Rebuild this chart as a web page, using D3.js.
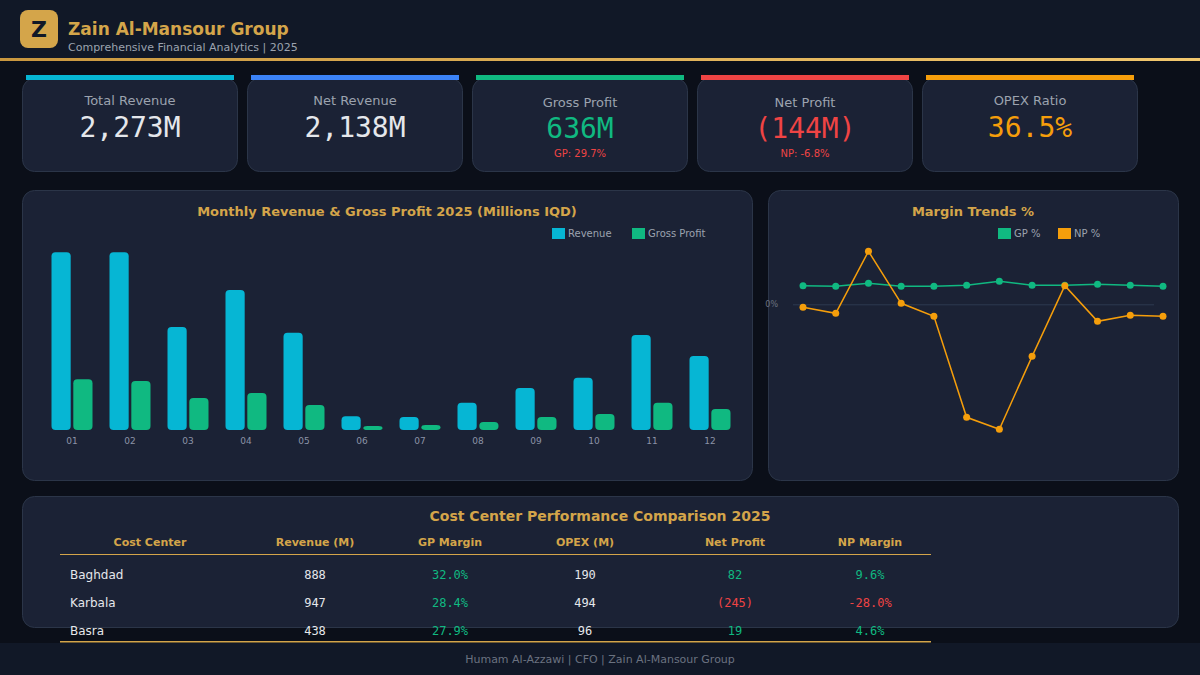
<!DOCTYPE html>
<meta charset="utf-8">
<style>
body{
    margin: 0;
    background: #0b0f19;
    font-family: "DejaVu Sans", sans-serif;
}
svg{
    display: block;
}
</style>
<body>
    <svg id="dash" width="1200" height="675"></svg>
    <script src="https://d3js.org/d3.v7.min.js"></script>
    <script>
        // data
        const months = ["01","02","03","04","05","06","07","08","09","10","11","12"];
        const revenue = [399, 399, 231, 314, 218, 31, 29, 61, 94, 117, 213, 166];
        const grossProfit = [114, 110, 72, 83, 56, 9, 11, 18, 29, 36, 61, 47];
        const gpPct = [29.1, 28.1, 32.8, 28.1, 28.1, 29.7, 35.9, 29.7, 29.7, 31.3, 29.7, 28.1];
        const npPct = [-4.7, -14.1, 82.8, 1.6, -18.8, -176.6, -195.3, -81.3, 29.1, -26.6, -17.2, -18.8];

        const kpiLabels = ["Total Revenue", "Net Revenue", "Gross Profit", "Net Profit", "OPEX Ratio"];
        const kpiValues = ["2,273M", "2,138M", "636M", "(144M)", "36.5%"];
        const kpiSubs = ["", "", "GP: 29.7%", "NP: -6.8%", ""];
        const kpiColors = ["#06b6d4", "#3b82f6", "#10b981", "#ef4444", "#f59e0b"];
        const kpiValueColors = ["#e5e7eb", "#e5e7eb", "#10b981", "#ef4444", "#f59e0b"];

        const tableHeaders = ["Cost Center", "Revenue (M)", "GP Margin", "OPEX (M)", "Net Profit", "NP Margin"];
        const centers = ["Baghdad", "Karbala", "Basra"];
        const centerRevenue = ["888", "947", "438"];
        const centerGp = ["32.0%", "28.4%", "27.9%"];
        const centerOpex = ["190", "494", "96"];
        const centerNet = ["82", "(245)", "19"];
        const centerNpMargin = ["9.6%", "-28.0%", "4.6%"];

        const gold = "#d4a54a";
        const panelFill = "#1b2235";
        const panelStroke = "#2b3548";

        const svg = d3.select("#dash");

        // ---- header
        const defs = svg.append("defs");
        const grad = defs.append("linearGradient").attr("id", "goldline");
        grad.append("stop").attr("offset", "0%").attr("stop-color", "#c9973f");
        grad.append("stop").attr("offset", "100%").attr("stop-color", "#f2c76e");

        svg.append("rect").attr("width", 1200).attr("height", 59).attr("fill", "#111827");
        svg.append("rect").attr("y", 58).attr("width", 1200).attr("height", 3).attr("fill", "url(#goldline)");
        svg.append("rect").attr("x", 20).attr("y", 10).attr("width", 38).attr("height", 38)
            .attr("rx", 8).attr("fill", gold);
        svg.append("text").attr("x", 39).attr("y", 37).attr("text-anchor", "middle")
            .attr("font-size", 22).attr("font-weight", "bold").attr("fill", "#111827").text("Z");
        svg.append("text").attr("x", 68).attr("y", 35).attr("font-size", 17).attr("font-weight", "bold")
            .attr("fill", gold).text("Zain Al-Mansour Group");
        svg.append("text").attr("x", 68).attr("y", 51).attr("font-size", 11)
            .attr("fill", "#9ca3af").text("Comprehensive Financial Analytics | 2025");

        // ---- KPI cards
        const cards = svg.selectAll("g.kpi")
            .data(kpiLabels)
            .join("g")
            .attr("class", "kpi")
            .attr("transform", (d, i) => `translate(${22 + i * 225},0)`);
        cards.append("rect").attr("x", 0.5).attr("y", 78.5).attr("width", 215).attr("height", 93)
            .attr("rx", 12).attr("fill", panelFill).attr("stroke", panelStroke);
        cards.append("rect").attr("x", 4).attr("y", 75).attr("width", 208).attr("height", 5)
            .attr("fill", (d, i) => kpiColors[i]);
        cards.append("text").attr("x", 108).attr("y", (d, i) => kpiSubs[i] ? 107 : 105)
            .attr("text-anchor", "middle").attr("font-size", 13).attr("fill", "#9ca3af")
            .text(d => d);
        cards.append("text").attr("x", 108).attr("y", (d, i) => kpiSubs[i] ? 138 : 137)
            .attr("text-anchor", "middle").attr("font-size", 28)
            .attr("font-family", "DejaVu Sans Mono, monospace")
            .attr("fill", (d, i) => kpiValueColors[i])
            .text((d, i) => kpiValues[i]);
        cards.append("text").attr("x", 108).attr("y", 157)
            .attr("text-anchor", "middle").attr("font-size", 10).attr("fill", "#ef4444")
            .text((d, i) => kpiSubs[i]);

        // ---- panels
        const panel = (x, y, w, h) => svg.append("rect").attr("x", x + 0.5).attr("y", y + 0.5)
            .attr("width", w).attr("height", h).attr("rx", 12)
            .attr("fill", panelFill).attr("stroke", panelStroke);
        panel(22, 190, 730, 290);
        panel(768, 190, 410, 290);
        panel(22, 496, 1156, 131);

        // ---- monthly bars
        const bar = svg.append("g");
        bar.append("text").attr("x", 387).attr("y", 216).attr("text-anchor", "middle")
            .attr("font-size", 13).attr("font-weight", "bold").attr("fill", gold)
            .text("Monthly Revenue & Gross Profit 2025 (Millions IQD)");

        const x0 = d3.scaleBand().domain(months).range([43, 739]);
        const x1 = d3.scaleBand().domain(["rev", "gp"]).range([8.5, 49.5]).paddingInner(0.12);
        const y = d3.scaleLinear().domain([0, 400]).range([430, 251.7]);

        const groups = bar.selectAll("g.m")
            .data(months)
            .join("g")
            .attr("transform", d => `translate(${x0(d)},0)`);
        groups.append("rect")
            .attr("x", x1("rev")).attr("width", x1.bandwidth())
            .attr("y", (d, i) => y(revenue[i]))
            .attr("height", (d, i) => y(0) - y(revenue[i]))
            .attr("rx", 4).attr("fill", "#06b6d4");
        groups.append("rect")
            .attr("x", x1("gp")).attr("width", x1.bandwidth())
            .attr("y", (d, i) => y(grossProfit[i]))
            .attr("height", (d, i) => y(0) - y(grossProfit[i]))
            .attr("rx", 4).attr("ry", (d, i) => Math.min(4, (y(0) - y(grossProfit[i])) / 2))
            .attr("fill", "#10b981");

        const xAxis = bar.append("g")
            .attr("transform", "translate(0,432)")
            .call(d3.axisBottom(x0).tickSize(0).tickPadding(6));
        xAxis.select(".domain").remove();
        xAxis.selectAll("text").attr("font-size", 9).attr("fill", "#8b93a7")
            .attr("font-family", "DejaVu Sans");

        const barLegend = [["Revenue", "#06b6d4", 552], ["Gross Profit", "#10b981", 632]];
        barLegend.forEach(l => {
            bar.append("rect").attr("x", l[2]).attr("y", 228).attr("width", 13).attr("height", 11).attr("fill", l[1]);
            bar.append("text").attr("x", l[2] + 16).attr("y", 237).attr("font-size", 10)
                .attr("fill", "#9ca3af").text(l[0]);
        });

        // ---- margin trends
        const mg = svg.append("g");
        mg.append("text").attr("x", 973).attr("y", 216).attr("text-anchor", "middle")
            .attr("font-size", 13).attr("font-weight", "bold").attr("fill", gold)
            .text("Margin Trends %");

        const xp = d3.scalePoint().domain(months).range([803, 1163]);
        const yp = d3.scaleLinear().domain([-200, 100]).range([432.3, 240.3]);

        const yAxis = mg.append("g")
            .attr("transform", "translate(793,0)")
            .call(d3.axisLeft(yp).tickValues([0]).tickFormat(d => d + "%").tickSize(-361).tickPadding(15));
        yAxis.select(".domain").remove();
        yAxis.selectAll("line").attr("stroke", "#2d3a50");
        yAxis.selectAll("text").attr("font-size", 8).attr("fill", "#6b7280").attr("font-family", "DejaVu Sans");

        const line = d3.line().x((d, i) => xp(months[i])).y(d => yp(d));
        [[gpPct, "#10b981"], [npPct, "#f59e0b"]].forEach(s => {
            mg.append("path").attr("d", line(s[0])).attr("fill", "none")
                .attr("stroke", s[1]).attr("stroke-width", 1.5);
            mg.selectAll(null).data(s[0]).join("circle")
                .attr("cx", (d, i) => xp(months[i])).attr("cy", d => yp(d))
                .attr("r", 3.5).attr("fill", s[1]);
        });

        const mgLegend = [["GP %", "#10b981", 998], ["NP %", "#f59e0b", 1058]];
        mgLegend.forEach(l => {
            mg.append("rect").attr("x", l[2]).attr("y", 228).attr("width", 13).attr("height", 11).attr("fill", l[1]);
            mg.append("text").attr("x", l[2] + 16).attr("y", 237).attr("font-size", 10)
                .attr("fill", "#9ca3af").text(l[0]);
        });

        // ---- footer (table overflows onto it)
        svg.append("rect").attr("y", 643).attr("width", 1200).attr("height", 32).attr("fill", "#111827");
        svg.append("text").attr("x", 600).attr("y", 663).attr("text-anchor", "middle")
            .attr("font-size", 11).attr("fill", "#6b7280")
            .text("Humam Al-Azzawi | CFO | Zain Al-Mansour Group");

        // ---- cost center table
        const tb = svg.append("g");
        tb.append("text").attr("x", 600).attr("y", 521).attr("text-anchor", "middle")
            .attr("font-size", 14).attr("font-weight", "bold").attr("fill", gold)
            .text("Cost Center Performance Comparison 2025");

        const colX = [150, 315, 450, 585, 735, 870];
        tb.selectAll("text.h").data(tableHeaders).join("text")
            .attr("class", "h")
            .attr("x", (d, i) => colX[i]).attr("y", 546)
            .attr("text-anchor", "middle").attr("font-size", 11).attr("font-weight", "bold")
            .attr("fill", gold).text(d => d);
        tb.append("rect").attr("x", 60).attr("y", 554).attr("width", 871).attr("height", 1).attr("fill", gold);
        tb.append("rect").attr("x", 60).attr("y", 641).attr("width", 871).attr("height", 1.5).attr("fill", gold);

        const rowY = d3.scalePoint().domain(centers).range([579, 635]);
        const pos = "#10b981", neg = "#ef4444";
        centers.forEach((c, i) => {
            const ry = rowY(c);
            const isNeg = centerNet[i].startsWith("(");
            tb.append("text").attr("x", 70).attr("y", ry).attr("font-size", 12)
                .attr("fill", "#e5e7eb").text(c);
            const cells = [
                [centerRevenue[i], "#e5e7eb"],
                [centerGp[i], pos],
                [centerOpex[i], "#e5e7eb"],
                [centerNet[i], isNeg ? neg : pos],
                [centerNpMargin[i], isNeg ? neg : pos]
            ];
            cells.forEach((cell, j) => {
                tb.append("text").attr("x", colX[j + 1]).attr("y", ry)
                    .attr("text-anchor", "middle").attr("font-size", 12)
                    .attr("font-family", "DejaVu Sans Mono, monospace")
                    .attr("fill", cell[1]).text(cell[0]);
            });
        });
    </script>
</body>
</html>
